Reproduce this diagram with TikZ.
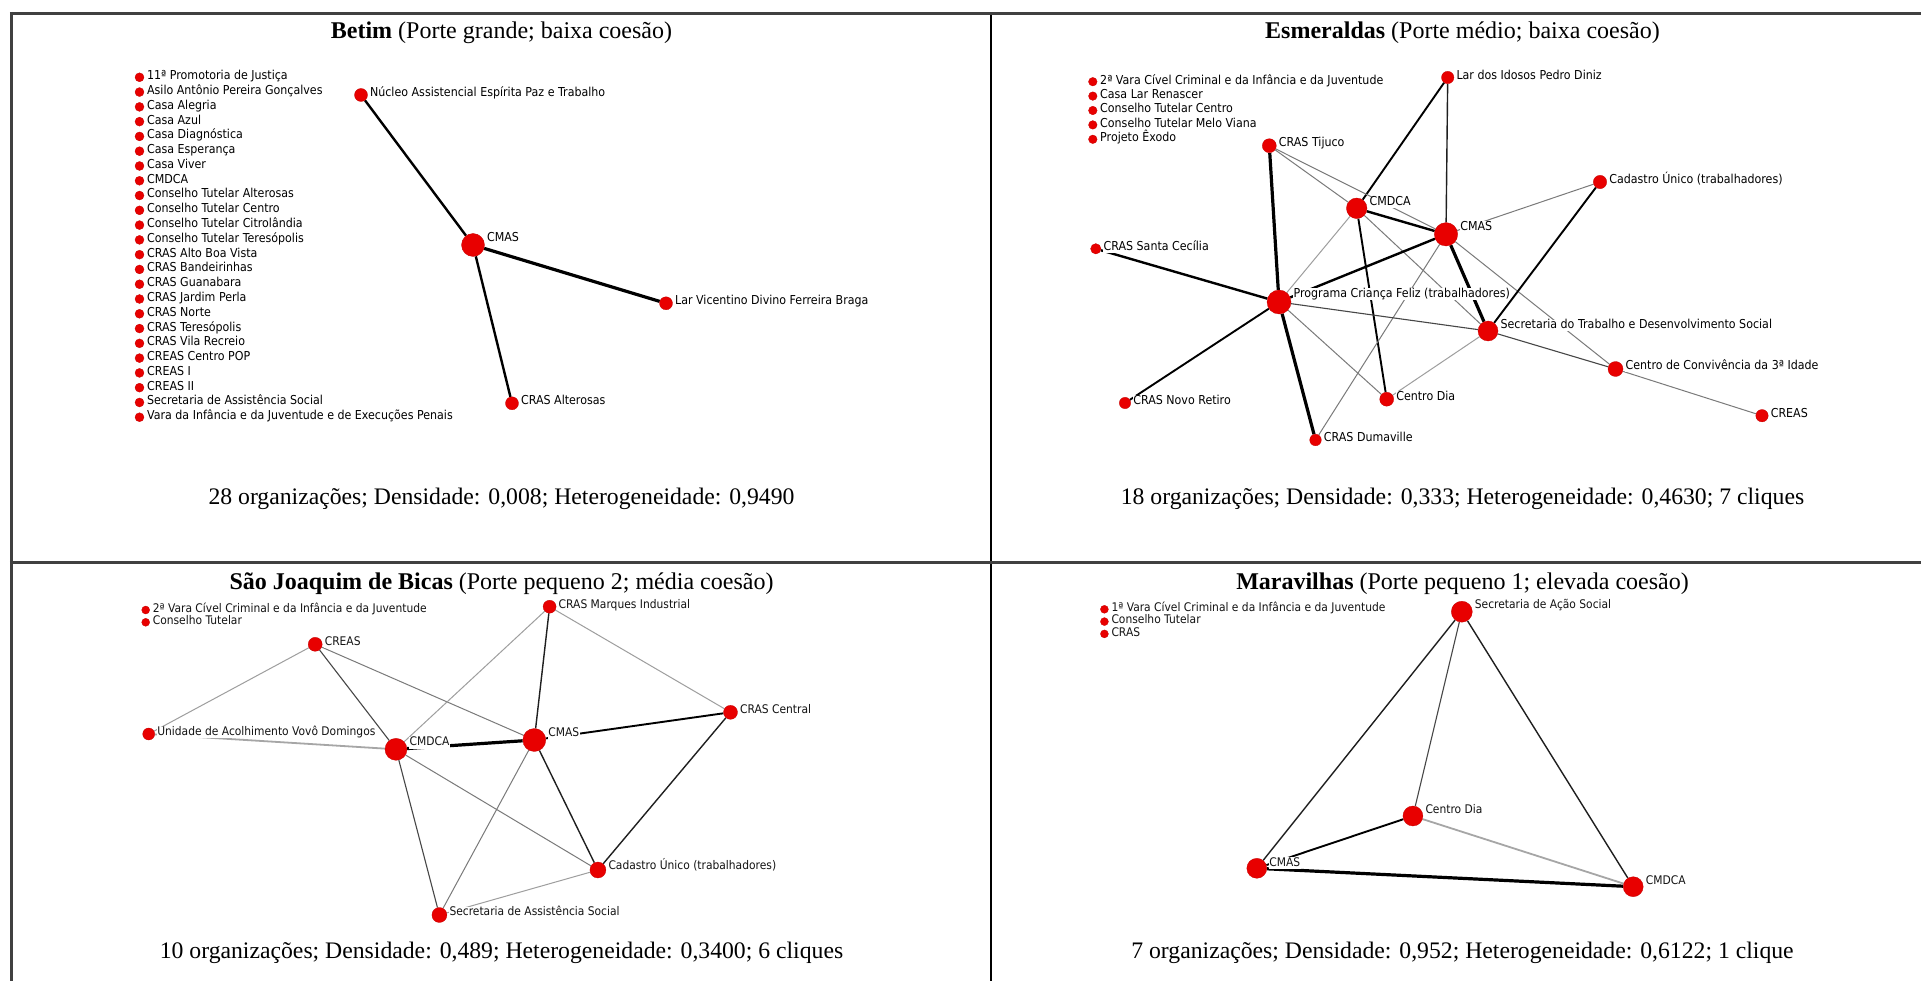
\documentclass[tikz,border=0pt]{standalone}
\usepackage{fontspec}
\setmainfont{Liberation Serif}
\newfontfamily\lblfont[FakeStretch=0.9]{DejaVu Sans}
\usetikzlibrary{calc}
\pgfdeclarelayer{edgelayer}
\pgfdeclarelayer{paper}
\pgfsetlayers{paper,edgelayer,main}
\definecolor{netred}{RGB}{232,0,0}
\definecolor{rulegray}{RGB}{64,64,64}
\tikzset{
  dot/.style={circle, fill=netred, draw=netred!85!black, line width=0.3pt, inner sep=0pt},
  lblbig/.style={font=\lblfont\fontsize{12.3}{14}\selectfont, text=black, fill=white, inner sep=0.4pt, text height=8.8pt, text depth=2.3pt, anchor=west},
  lblsmall/.style={font=\lblfont\fontsize{11.9}{14}\selectfont, text=black!92, fill=white, inner sep=0.4pt, text height=8.5pt, text depth=2.2pt, anchor=west},
  ttl/.style={font=\fontsize{24}{28}\selectfont, anchor=base, inner sep=0pt},
  stat/.style={font=\fontsize{23.7}{28}\selectfont, anchor=base, inner sep=0pt},
  rulethick/.style={draw=rulegray, line width=3pt},
  ruleleft/.style={draw=rulegray, line width=2.7pt},
  rulemid/.style={draw=black, line width=2pt},
  tieA/.style={line width=3.2pt, draw=black},
  tieB/.style={line width=2.4pt, draw=black},
  tieC/.style={line width=1.9pt, draw=black},
  tieD/.style={line width=1.4pt, draw=black!88},
  tieE/.style={line width=1.1pt, draw=black!72},
  tieF/.style={line width=1pt, draw=black!52},
  tieG/.style={line width=1pt, draw=black!38},
  tieH/.style={line width=1.8pt, draw=black!35},
}
% id, x, y, r, label, label style
\newcommand\netnode[6]{%
  \node[dot, minimum size={2*#4}] (#1) at (#2,#3) {};
  \pgfmathsetmacro\nlbldy{max(1.6,1.6+1.1*(#4-6.5))}%
  \node[#6] (#1-t) at ([xshift={#4+2}, yshift=\nlbldy]#1.center) {#5};
}
\newcommand\isonode[6]{%
  \node[dot, minimum size={2*#4}] (#1) at (#2,#3) {};
  \node[#6] (#1-t) at ([xshift={#4+2.5}, yshift=0.8]#1.center) {#5};
}
\begin{document}
\begin{tikzpicture}[x=1pt, y=-1pt]
\useasboundingbox (0,0) rectangle (1921,981);
\begin{pgfonlayer}{paper}
\fill[white] (0,0) rectangle (1921,981);
\end{pgfonlayer}

% table rules
\coordinate (tl) at (9.9,13.5);
\coordinate (tr) at (1921,13.5);
\coordinate (ml) at (9.9,562.3);
\coordinate (mr) at (1921,562.3);
\coordinate (lt) at (11.3,12);
\coordinate (lb) at (11.3,981);
\coordinate (ct) at (991,15);
\coordinate (cb) at (991,981);
\draw[ruleleft] (lt) -- (lb);
\draw[rulemid] (ct) -- (cb);
\draw[rulethick] (tl) -- (tr);
\draw[rulethick] (ml) -- (mr);

% titles and statistics
\node[ttl] (t1) at (501.5,39) {\textbf{Betim} (Porte grande; baixa coesão)};
\node[ttl] (t2) at (1462.5,39) {\textbf{Esmeraldas} (Porte médio; baixa coesão)};
\node[ttl] (t3) at (501.5,589) {\textbf{São Joaquim de Bicas} (Porte pequeno 2; média coesão)};
\node[ttl] (t4) at (1462.5,589) {\textbf{Maravilhas} (Porte pequeno 1; elevada coesão)};
\node[stat] (s1) at (501.5,504) {28 organizações; Densidade: 0,008; Heterogeneidade: 0,9490};
\node[stat] (s2) at (1462.5,504) {18 organizações; Densidade: 0,333; Heterogeneidade: 0,4630; 7 cliques};
\node[stat] (s3) at (501.5,958.3) {10 organizações; Densidade: 0,489; Heterogeneidade: 0,3400; 6 cliques};
\node[stat] (s4) at (1462.5,958.3) {7 organizações; Densidade: 0,952; Heterogeneidade: 0,6122; 1 clique};

% ================= Betim =================
\foreach \lab [count=\i] in {11ª Promotoria de Justiça, Asilo Antônio Pereira Gonçalves, Casa Alegria, Casa Azul, Casa Diagnóstica, Casa Esperança, Casa Viver, CMDCA, Conselho Tutelar Alterosas, Conselho Tutelar Centro, Conselho Tutelar Citrolândia, Conselho Tutelar Teresópolis, CRAS Alto Boa Vista, CRAS Bandeirinhas, CRAS Guanabara, CRAS Jardim Perla, CRAS Norte, CRAS Teresópolis, CRAS Vila Recreio, CREAS Centro POP, CREAS I, CREAS II, Secretaria de Assistência Social, Vara da Infância e da Juventude e de Execuções Penais}{
  \pgfmathsetmacro\yy{77.3+(\i-1)*14.78}
  \isonode{bi\i}{139.5}{\yy}{4.5}{\lab}{lblbig}
}
\netnode{bN}{361}{95}{6.5}{Núcleo Assistencial Espírita Paz e Trabalho}{lblbig}
\netnode{bC}{473}{245}{11.5}{CMAS}{lblbig}
\netnode{bL}{666}{303.3}{6.5}{Lar Vicentino Divino Ferreira Braga}{lblbig}
\netnode{bA}{512}{403.3}{6.5}{CRAS Alterosas}{lblbig}
\begin{pgfonlayer}{edgelayer}
\draw[tieB] (bN) -- (bC);
\draw[tieA] (bC) -- (bL);
\draw[tieB] (bC) -- (bA);
\end{pgfonlayer}

% ================= Esmeraldas =================
\foreach \lab [count=\i] in {2ª Vara Cível Criminal e da Infância e da Juventude, Casa Lar Renascer, Conselho Tutelar Centro, Conselho Tutelar Melo Viana, Projeto Êxodo}{
  \pgfmathsetmacro\yy{81.7+(\i-1)*14.4}
  \isonode{ei\i}{1092.8}{\yy}{4.3}{\lab}{lblbig}
}
\netnode{eLI}{1447.7}{77.5}{6.2}{Lar dos Idosos Pedro Diniz}{lblbig}
\netnode{eTJ}{1269.3}{145.7}{7}{CRAS Tijuco}{lblbig}
\netnode{eCU}{1600}{182}{6.7}{Cadastro Único (trabalhadores)}{lblbig}
\netnode{eCD}{1356.7}{208.3}{10.3}{CMDCA}{lblbig}
\netnode{eCM}{1446}{234.3}{11.7}{CMAS}{lblbig}
\netnode{eSC}{1095.8}{248.8}{5.2}{CRAS Santa Cecília}{lblbig}
\netnode{ePC}{1279}{302}{12}{Programa Criança Feliz (trabalhadores)}{lblbig}
\netnode{eST}{1488}{331}{10}{Secretaria do Trabalho e Desenvolvimento Social}{lblbig}
\netnode{eCC}{1615.5}{369}{7.5}{Centro de Convivência da 3ª Idade}{lblbig}
\netnode{eDI}{1386.7}{399.2}{7}{Centro Dia}{lblbig}
\netnode{eNR}{1125}{403}{5.7}{CRAS Novo Retiro}{lblbig}
\netnode{eCR}{1762}{415.7}{6.2}{CREAS}{lblbig}
\netnode{eDU}{1315.5}{440}{5.8}{CRAS Dumaville}{lblbig}
\begin{pgfonlayer}{edgelayer}
\draw[tieC] (eLI) -- (eCD);
\draw[tieD] (eLI) -- (eCM);
\draw[tieA] (eTJ) -- (ePC);
\draw[tieF] (eTJ) -- (eCD);
\draw[tieF] (eTJ) -- (eCM);
\draw[tieB] (eCD) -- (eCM);
\draw[tieG] (eCD) -- (ePC);
\draw[tieC] (eCD) -- (eDI);
\draw[tieF] (eCD) -- (eST);
\draw[tieB] (eCM) -- (ePC);
\draw[tieA] (eCM) -- (eST);
\draw[tieF] (eCM) -- (eCU);
\draw[tieF] (eCM) -- (eCC);
\draw[tieF] (eCM) -- (eDU);
\draw[tieC] (eCU) -- (eST);
\draw[tieB] (ePC) -- (eSC);
\draw[tieC] (ePC) -- (eNR);
\draw[tieA] (ePC) -- (eDU);
\draw[tieE] (ePC) -- (eST);
\draw[tieF] (ePC) -- (eDI);
\draw[tieG] (eST) -- (eDI);
\draw[tieE] (eST) -- (eCC);
\draw[tieF] (eCC) -- (eCR);
\end{pgfonlayer}

% ================= São Joaquim de Bicas =================
\isonode{si1}{145.7}{610}{4}{2ª Vara Cível Criminal e da Infância e da Juventude}{lblsmall}
\isonode{si2}{145.7}{622.3}{4}{Conselho Tutelar}{lblsmall}
\netnode{sMI}{549.6}{606.7}{6.5}{CRAS Marques Industrial}{lblsmall}
\netnode{sCR}{315.2}{644.3}{7}{CREAS}{lblsmall}
\netnode{sCE}{730.5}{712.3}{7}{CRAS Central}{lblsmall}
\netnode{sUA}{148.7}{734}{6}{Unidade de Acolhimento Vovô Domingos}{lblsmall}
\netnode{sCD}{396}{749.3}{11}{CMDCA}{lblsmall}
\netnode{sCM}{534.3}{740}{11.5}{CMAS}{lblsmall}
\netnode{sCU}{597.9}{870}{8}{Cadastro Único (trabalhadores)}{lblsmall}
\netnode{sSA}{439.4}{915}{7.5}{Secretaria de Assistência Social}{lblsmall}
\begin{pgfonlayer}{edgelayer}
\draw[tieG] (sCR) -- (sUA);
\draw[tieE] (sCR) -- (sCD);
\draw[tieF] (sCR) -- (sCM);
\draw[tieG] (sMI) -- (sCD);
\draw[tieD] (sMI) -- (sCM);
\draw[tieG] (sMI) -- (sCE);
\draw[tieC] (sCE) -- (sCM);
\draw[tieD] (sCE) -- (sCU);
\draw[tieH] (sUA) -- (sCD);
\draw[tieA] (sCD) -- (sCM);
\draw[tieF] (sCD) -- (sCU);
\draw[tieE] (sCD) -- (sSA);
\draw[tieD] (sCM) -- (sCU);
\draw[tieF] (sCM) -- (sSA);
\draw[tieG] (sCU) -- (sSA);
\end{pgfonlayer}

% ================= Maravilhas =================
\isonode{mi1}{1104.4}{609.3}{4}{1ª Vara Cível Criminal e da Infância e da Juventude}{lblsmall}
\isonode{mi2}{1104.4}{621.6}{4}{Conselho Tutelar}{lblsmall}
\isonode{mi3}{1104.4}{633.9}{4}{CRAS}{lblsmall}
\netnode{mSA}{1461.8}{611.7}{10.5}{Secretaria de Ação Social}{lblsmall}
\netnode{mCD}{1412.9}{816}{10}{Centro Dia}{lblsmall}
\netnode{mCM}{1256.8}{868.3}{10}{CMAS}{lblsmall}
\netnode{mCA}{1633.2}{886.7}{10}{CMDCA}{lblsmall}
\begin{pgfonlayer}{edgelayer}
\draw[tieD] (mSA) -- (mCM);
\draw[tieE] (mSA) -- (mCD);
\draw[tieD] (mSA) -- (mCA);
\draw[tieC] (mCD) -- (mCM);
\draw[tieH] (mCD) -- (mCA);
\draw[tieA] (mCM) -- (mCA);
\end{pgfonlayer}
\end{tikzpicture}
\end{document}
